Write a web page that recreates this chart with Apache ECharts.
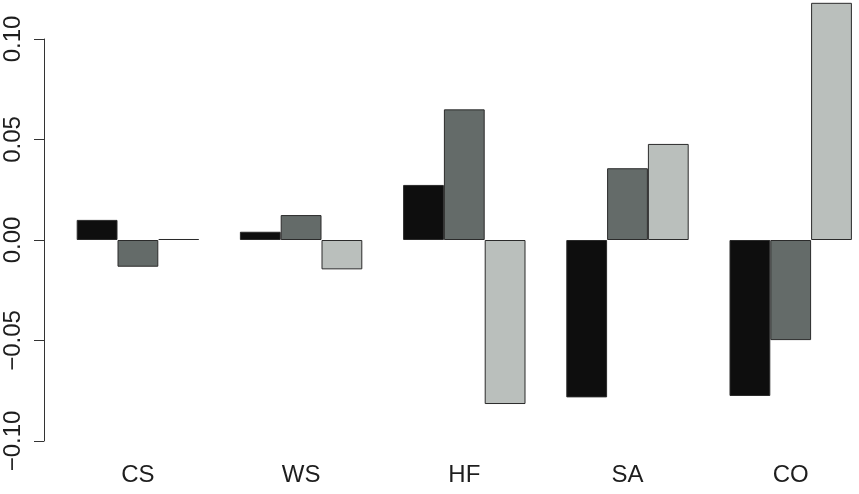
<!DOCTYPE html>
<html>
<head>
<meta charset="utf-8">
<script src="https://cdn.jsdelivr.net/npm/echarts@6/dist/echarts.min.js"></script>
<style>
  html, body { margin: 0; padding: 0; background: #fff; }
  #box { width: 859px; height: 494px; }
</style>
</head>
<body>
<div id="box"></div>
<script>
const categories = ['CS', 'WS', 'HF', 'SA', 'CO']
const series1 = [0.010, 0.0041, 0.0274, -0.0783, -0.0776]
const series2 = [-0.0133, 0.0124, 0.065, 0.0357, -0.0498]
const series3 = [0.0005, -0.0146, -0.0816, 0.0478, 0.118]
const yTicks = [-0.10, -0.05, 0.00, 0.05, 0.10]
const fills = ['#0e0e0e', '#646b69', '#babfbc']

const chart = echarts.init(document.getElementById('box'))

// bars drawn like R's barplot(beside = TRUE)
function barSeries(data, color) {
  return {
    type: 'bar',
    data: data,
    barWidth: 40.8,
    barGap: '0%',
    clip: false,
    itemStyle: {
      color: color,
      borderColor: '#2b2b2b',
      borderWidth: 1
    }
  }
}

chart.setOption({
  animation: false,
  textStyle: { fontFamily: 'Liberation Sans' },
  grid: {
    left: 56.3,
    top: 39,
    width: 816,
    height: 402,
    outerBoundsMode: 'none'
  },
  xAxis: {
    type: 'category',
    data: categories,
    axisLine: { show: false },
    axisTick: { show: false },
    axisLabel: {
      color: '#1e1e1e',
      fontSize: 24,
      margin: 22,
      fontFamily: 'Liberation Sans'
    }
  },
  yAxis: {
    type: 'value',
    min: yTicks[0],
    max: yTicks[yTicks.length - 1],
    interval: 0.05,
    offset: 12.3,
    splitLine: { show: false },
    axisLine: { show: true, lineStyle: { color: '#333', width: 1 } },
    axisTick: { show: true, length: 10, lineStyle: { color: '#333', width: 1 } },
    axisLabel: {
      rotate: 90,
      showMinLabel: true,
      showMaxLabel: true,
      color: '#1e1e1e',
      fontSize: 24,
      margin: 19,
      fontFamily: 'Liberation Sans',
      formatter: function (v) {
        const s = Math.abs(v).toFixed(2)
        return v < -1e-9 ? '\u2212' + s : s
      }
    }
  },
  series: [
    barSeries(series1, fills[0]),
    barSeries(series2, fills[1]),
    barSeries(series3, fills[2])
  ]
})
</script>
</body>
</html>
